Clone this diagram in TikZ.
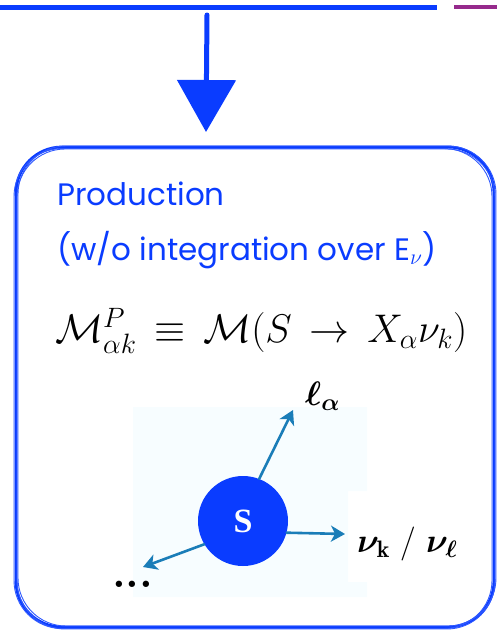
\RequirePackage{fix-cm}
\documentclass[tikz,border=0pt]{standalone}
\usepackage{amsmath,amssymb,bm}
\usepackage{fontspec}
\newfontfamily\handfont{Poppins}
\newfontfamily\labelfont{Liberation Serif}
\usetikzlibrary{arrows.meta}
\definecolor{boxblue}{HTML}{0A3CFF}
\definecolor{slidepurple}{HTML}{962A8C}
\definecolor{decayarrow}{HTML}{1A7DB8}
\definecolor{paleback}{HTML}{F7FDFF}

\begin{document}
\begin{tikzpicture}[
  x=1pt,
  y=-1pt,
  line join=round,
  line cap=round,
  sketch/.style={draw=boxblue,line width=2.8pt,rounded corners=46pt},
  sketchthin/.style={draw=boxblue!85,line width=0.9pt,rounded corners=48pt},
  handtext/.style={text=boxblue,font=\handfont\fontsize{31}{36}\selectfont,anchor=base west,inner sep=0pt},
  decay/.style={draw=decayarrow,line width=2.6pt,-{Stealth[length=14pt,width=16pt,inset=4pt]}},
  partlabel/.style={font=\fontsize{34}{38}\selectfont,anchor=base west,inner sep=0pt}
]
  \useasboundingbox (0,0) rectangle (497,633);

  % Slide header bars.
  \draw[draw=boxblue,line width=5pt,line cap=butt] (0,7) -- (437,7);
  \draw[draw=slidepurple,line width=4pt,line cap=butt] (454,7) -- (497,7);

  % Down arrow into the box.
  \coordinate (arrowtail) at (207,15);
  \coordinate (arrowtip) at (206,132);
  \draw[draw=boxblue,line width=5pt,-{Triangle[length=52pt,width=58pt]}] (arrowtail) -- (arrowtip);

  % Sketchy rounded frame.
  \draw[sketch] (16,147) rectangle (494,627);
  \foreach \dx/\dy in {-2/1.5,2/-1,1/2} {
    \draw[sketchthin,shift={(\dx,\dy)}] (16,147) rectangle (494,627);
  }

  % Titles and amplitude.
  \node[handtext] (prodtitle) at (57,205) {Production};
  \node[handtext] (prodnote) at (57,260) {(w/o integration over E$_\nu$)};
  \node[anchor=base west,inner sep=0pt,font=\fontsize{40}{44}\selectfont] (prodamp) at (55,342)
    {$\mathcal{M}^P_{\alpha k}\,\equiv\,\mathcal{M}(S\,\to\,X_\alpha\nu_k)$};

  % Pale panel behind the decay sketch.
  \fill[paleback] (133,407) -- (367,407) -- (367,491) -- (348,491) -- (348,582)
    -- (367,582) -- (367,597) -- (133,597) -- cycle;

  % Decaying particle and products.
  \node[circle,fill=boxblue,minimum size=90pt,inner sep=0pt,text=white,font=\labelfont\bfseries\fontsize{34}{34}\selectfont] (S) at (243,521) {S};
  \coordinate (leptontip) at (293,410);
  \coordinate (neutrinotip) at (345,534);
  \coordinate (otherstip) at (143,567);
  \draw[decay] (S.69) -- (leptontip);
  \draw[decay] (S.-15) -- (neutrinotip);
  \draw[decay] (S.211) -- (otherstip);

  \node[partlabel] (lepton) at (305,405) {$\boldsymbol{\ell_\alpha}$};
  \node[partlabel] (neutrino) at (357,552) {$\boldsymbol{\nu}_{\mathbf{k}}$ / $\boldsymbol{\nu_\ell}$};
  \node[partlabel,font=\fontsize{44}{44}\selectfont] (others) at (112,587) {\textbf{...}};
\end{tikzpicture}
\end{document}
